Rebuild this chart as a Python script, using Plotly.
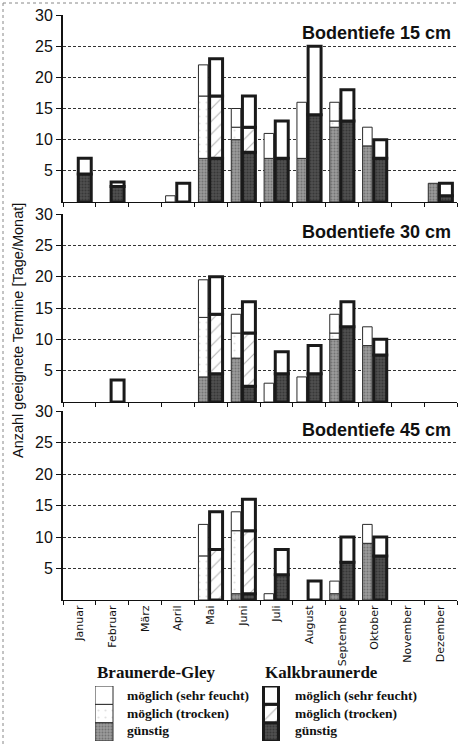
import plotly.graph_objects as go

# ---------------- data ----------------
months = ["Januar", "Februar", "März", "April", "Mai", "Juni", "Juli",
          "August", "September", "Oktober", "November", "Dezember"]
panel_titles = ["Bodentiefe 15 cm", "Bodentiefe 30 cm", "Bodentiefe 45 cm"]
y_ticks = [5, 10, 15, 20, 25, 30]
y_title = "Anzahl geeignete Termine [Tage/Monat]"
segment_labels = ["möglich (sehr feucht)", "möglich (trocken)", "günstig"]
soil_names = ["Braunerde-Gley", "Kalkbraunerde"]

# Braunerde-Gley
bg_guenstig_15 = [0, 0, 0, 0, 7, 10, 7, 7, 12, 9, 0, 3]
bg_trocken_15 = [0, 0, 0, 0, 10, 2, 0, 0, 1, 0, 0, 0]
bg_feucht_15 = [0, 0, 0, 1, 5, 3, 4, 9, 3, 3, 0, 0]
bg_guenstig_30 = [0, 0, 0, 0, 4, 7, 0, 0, 10, 9, 0, 0]
bg_trocken_30 = [0, 0, 0, 0, 9.5, 4, 0, 0, 1, 0, 0, 0]
bg_feucht_30 = [0, 0, 0, 0, 6, 3, 3, 4, 3, 3, 0, 0]
bg_guenstig_45 = [0, 0, 0, 0, 0, 1, 0, 0, 1, 9, 0, 0]
bg_trocken_45 = [0, 0, 0, 0, 7, 10, 0, 0, 0, 0, 0, 0]
bg_feucht_45 = [0, 0, 0, 0, 5, 3, 1, 0, 2, 3, 0, 0]

# Kalkbraunerde
kb_guenstig_15 = [4.5, 2.5, 0, 0, 7, 8, 7, 14, 13, 7, 0, 1]
kb_trocken_15 = [0, 0, 0, 0, 10, 4, 0, 0, 0, 0, 0, 0]
kb_feucht_15 = [2.5, 0.7, 0, 3, 6, 5, 6, 11, 5, 3, 0, 2]
kb_guenstig_30 = [0, 0, 0, 0, 4.5, 2.5, 4.5, 4.5, 12, 7.5, 0, 0]
kb_trocken_30 = [0, 0, 0, 0, 9.5, 8.5, 0, 0, 0, 0, 0, 0]
kb_feucht_30 = [0, 3.5, 0, 0, 6, 5, 3.5, 4.5, 4, 2.5, 0, 0]
kb_guenstig_45 = [0, 0, 0, 0, 0, 1, 4, 0, 6, 7, 0, 0]
kb_trocken_45 = [0, 0, 0, 0, 8, 10, 0, 0, 0, 0, 0, 0]
kb_feucht_45 = [0, 0, 0, 0, 6, 5, 4, 3, 4, 3, 0, 0]

panels_bg = [
    [bg_guenstig_15, bg_trocken_15, bg_feucht_15],
    [bg_guenstig_30, bg_trocken_30, bg_feucht_30],
    [bg_guenstig_45, bg_trocken_45, bg_feucht_45],
]
panels_kb = [
    [kb_guenstig_15, kb_trocken_15, kb_feucht_15],
    [kb_guenstig_30, kb_trocken_30, kb_feucht_30],
    [kb_guenstig_45, kb_trocken_45, kb_feucht_45],
]

# ---------------- geometry / styles ----------------
W, H = 459, 747
ML, MR, MT, MB = 63, 2, 15, 3
PW = W - ML - MR
PH = H - MT - MB


def pyf(p):
    return (H - MB - p) / PH


def pxf(p):
    return (p - ML) / PW


panel_px = [(202, 15), (402, 214), (600, 411)]   # (zero line, top) in pixels
title_py = [33, 232, 430]

BG_LINE = dict(color="#2a2a2a", width=1)
KB_LINE = dict(color="#1a1a1a", width=3)

bg_styles = [
    dict(color="#8e8e8e", pattern=dict(shape=".", fgcolor="#4e4e4e", bgcolor="#9a9a9a", size=3, solidity=0.35)),
    dict(color="#fcfcfc", pattern=dict(shape=".", fgcolor="#c4c4c4", bgcolor="#ffffff", size=7, solidity=0.08)),
    dict(color="#ffffff"),
]
kb_styles = [
    dict(color="#444444", pattern=dict(shape=".", fgcolor="#1e1e1e", bgcolor="#505050", size=3, solidity=0.4)),
    dict(color="#ffffff", pattern=dict(shape="/", fgcolor="#6a6a6a", bgcolor="#ffffff", size=9, solidity=0.12)),
    dict(color="#ffffff"),
]

BG_OFFSET, BG_WIDTH = -0.375, 0.29
KB_OFFSET, KB_WIDTH = -0.035, 0.395

fig = go.Figure()


def add_stack(segs, styles, line, offset, width, xa, ya):
    cum = [0.0] * len(months)
    for seg, st in zip(segs, styles):
        yv = [v if v > 0 else None for v in seg]
        marker = dict(color=st["color"], line=line)
        if "pattern" in st:
            marker["pattern"] = st["pattern"]
        fig.add_trace(go.Bar(
            x=months, y=yv, base=list(cum), offset=offset, width=width,
            marker=marker, xaxis=xa, yaxis=ya, showlegend=False,
            hoverinfo="skip"))
        cum = [c + v for c, v in zip(cum, seg)]


for i in range(3):
    xa = "x" if i == 0 else f"x{i + 1}"
    ya = "y" if i == 0 else f"y{i + 1}"
    add_stack(panels_bg[i], bg_styles, BG_LINE, BG_OFFSET, BG_WIDTH, xa, ya)
    add_stack(panels_kb[i], kb_styles, KB_LINE, KB_OFFSET, KB_WIDTH, xa, ya)

# legend swatches (drawn on a hidden helper axis so patterns can be used)
legend_seg = [1, 1, 1]
LEG_BG_X, LEG_KB_X = 9, 176
for xpos, styles, line, w in [(LEG_BG_X, bg_styles, BG_LINE, 18), (LEG_KB_X, kb_styles, KB_LINE, 15)]:
    cum = 0
    for v, st in zip(legend_seg, styles):
        marker = dict(color=st["color"], line=line)
        if "pattern" in st:
            marker["pattern"] = st["pattern"]
        fig.add_trace(go.Bar(x=[xpos], y=[v], base=[cum], width=w, marker=marker,
                             xaxis="x4", yaxis="y4", showlegend=False, hoverinfo="skip"))
        cum += v

layout = dict(
    width=W, height=H, margin=dict(l=ML, r=MR, t=MT, b=MB),
    paper_bgcolor="white", plot_bgcolor="white", barmode="overlay",
    showlegend=False,
)

tick_font = dict(family="Liberation Sans, Arial, sans-serif", size=16, color="#111")
for i in range(3):
    sfx = "" if i == 0 else str(i + 1)
    zero_p, top_p = panel_px[i]
    layout["yaxis" + sfx] = dict(
        domain=[pyf(zero_p), pyf(top_p)], range=[0, 30], anchor="x" + sfx,
        tickvals=y_ticks, ticks="outside", ticklen=5, tickwidth=1.2, tickcolor="#111",
        showline=True, linewidth=2, linecolor="#111", zeroline=False,
        showgrid=True, gridcolor="#333", griddash="3px,2px", gridwidth=1,
        tickfont=tick_font, fixedrange=True,
    )
    layout["xaxis" + sfx] = dict(
        domain=[0, 1], anchor="y" + sfx, type="category",
        categoryorder="array", categoryarray=months, range=[-0.5, 11.5],
        showline=True, linewidth=1.2, linecolor="#111", ticks="outside",
        tickson="boundaries", ticklen=4, tickcolor="#111", showgrid=False,
        zeroline=False, showticklabels=(i == 2), tickangle=-90,
        tickfont=dict(family="DejaVu Sans, sans-serif", size=11, color="#111"),
        fixedrange=True,
    )

layout["xaxis4"] = dict(domain=[pxf(95), pxf(280)], range=[0, 185], visible=False,
                        anchor="y4", fixedrange=True)
layout["yaxis4"] = dict(domain=[pyf(741), pyf(686)], range=[0, 3], visible=False,
                        anchor="x4", fixedrange=True)

annotations = []
for i in range(3):
    annotations.append(dict(
        text=panel_titles[i], xref="paper", yref="paper", x=pxf(453), y=pyf(title_py[i]),
        xanchor="right", yanchor="middle", showarrow=False,
        font=dict(family="Liberation Sans, Arial, sans-serif", size=18, color="#111", weight="bold")))

annotations.append(dict(
    text=y_title, xref="paper", yref="paper", x=pxf(18), y=pyf(331), textangle=-90,
    xanchor="center", yanchor="middle", showarrow=False,
    font=dict(family="Liberation Sans, Arial, sans-serif", size=14.5, color="#111")))

serif = "Liberation Serif, Times New Roman, serif"
for name, xh, xt in [(soil_names[0], 95, 125), (soil_names[1], 263, 293)]:
    annotations.append(dict(
        text=name, xref="paper", yref="paper", x=pxf(xh), y=pyf(672),
        xanchor="left", yanchor="middle", showarrow=False,
        font=dict(family=serif, size=17, color="#111", weight="bold")))
    for lbl, yy in zip(segment_labels, [695, 713, 730]):
        annotations.append(dict(
            text=lbl, xref="paper", yref="paper", x=pxf(xt), y=pyf(yy),
            xanchor="left", yanchor="middle", showarrow=False,
            font=dict(family=serif, size=13.5, color="#111", weight="bold")))

layout["annotations"] = annotations
layout["shapes"] = [
    dict(type="line", xref="paper", yref="paper", x0=pxf(3), x1=pxf(3), y0=pyf(3), y1=pyf(747),
         line=dict(color="#888", width=1, dash="dot")),
    dict(type="line", xref="paper", yref="paper", x0=pxf(3), x1=pxf(459), y0=pyf(3), y1=pyf(3),
         line=dict(color="#888", width=1, dash="dot")),
]

fig.update_layout(**layout)
fig.write_html("out.html")
